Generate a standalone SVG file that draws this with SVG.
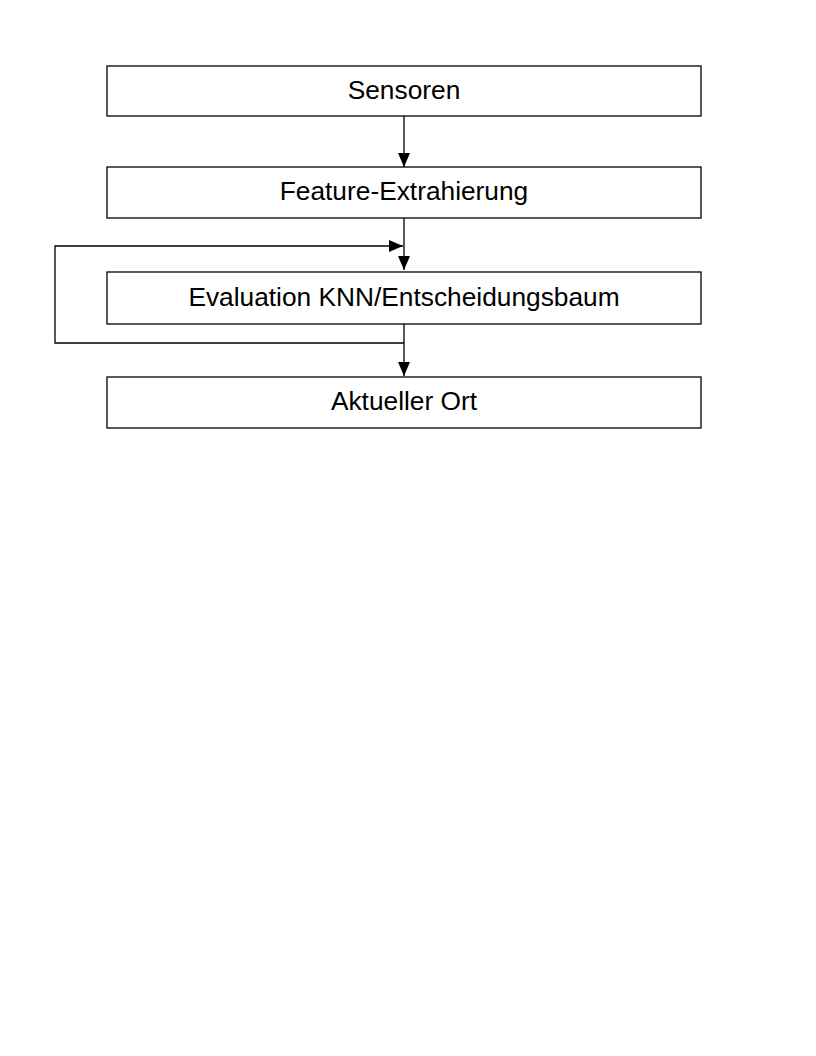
<svg xmlns="http://www.w3.org/2000/svg" width="816" height="1056" viewBox="0 0 816 1056">
<style>
.box{fill:#fff;stroke:#000;stroke-width:1.3}
.lbl{font-family:"Liberation Sans",Arial,sans-serif;font-size:26.3px;fill:#000;text-anchor:middle}
.con{fill:none;stroke:#000;stroke-width:1.3}
</style>
<defs>
<marker id="ah" viewBox="0 0 14 12" refX="14" refY="6" markerWidth="14" markerHeight="12" markerUnits="userSpaceOnUse" orient="auto">
<path d="M0,0 L14,6 L0,12 Z" fill="#000"/>
</marker>
</defs>
<rect width="816" height="1056" fill="#fff"/>
<g id="connectors">
<path class="con" d="M404,116 V167" marker-end="url(#ah)"/>
<path class="con" d="M404,218 V270" marker-end="url(#ah)"/>
<path class="con" d="M404,324 V376" marker-end="url(#ah)"/>
<path class="con" d="M404,343 H55 V246 H403" marker-end="url(#ah)"/>
</g>
<g id="sensoren"><rect class="box" x="107" y="66" width="594" height="50"/><text class="lbl" x="404" y="99">Sensoren</text></g>
<g id="feature"><rect class="box" x="107" y="167" width="594" height="51"/><text class="lbl" x="404" y="200">Feature-Extrahierung</text></g>
<g id="evaluation"><rect class="box" x="107" y="272" width="594" height="52"/><text class="lbl" x="404" y="306">Evaluation KNN/Entscheidungsbaum</text></g>
<g id="ort"><rect class="box" x="107" y="377" width="594" height="51"/><text class="lbl" x="404" y="410">Aktueller Ort</text></g>
</svg>
